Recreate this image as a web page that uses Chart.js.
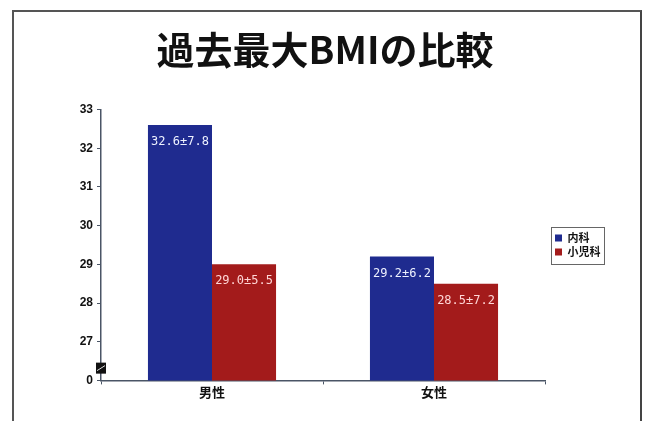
<!DOCTYPE html>
<html>
<head>
<meta charset="utf-8">
<script src="https://cdn.jsdelivr.net/npm/chart.js@4.4.1/dist/chart.umd.min.js"></script>
<style>
  html, body { margin: 0; padding: 0; background: #fff; }
  #wrap { position: relative; width: 646px; height: 421px; }
  #frame { position: absolute; left: 12px; top: 10px; width: 626px; height: 430px;
           border-left: 2px solid #555; border-top: 2px solid #555; border-right: 2px solid #444;
           pointer-events: none; }
  canvas { position: absolute; left: 0; top: 0; }
</style>
</head>
<body>
<div id="wrap">
  <canvas id="c" width="646" height="421"></canvas>
  <div id="frame"></div>
</div>
<script>
const TITLE = '過去最大BMIの比較';
const categories = ['男性', '女性'];
const seriesNames = ['内科', '小児科'];
const naikaMeans = [32.6, 29.2];
const naikaSDs = [7.8, 6.2];
const shonikaMeans = [29.0, 28.5];
const shonikaSDs = [5.5, 7.2];
const yTickValues = [26, 27, 28, 29, 30, 31, 32, 33];
const yTickLabels = ['0', '27', '28', '29', '30', '31', '32', '33'];
const Y_MIN = 26, Y_MAX = 33, BREAK_AT = 26.33;

const BLUE = '#1f2b8f';
const RED = '#a31b1b';
const Y_AXIS_WIDTH = 85;
const LEGEND_WIDTH = 89;
const LEGEND_SHIFT = 7;

const helperPlugin = {
  id: 'helper',
  beforeUpdate(chart) {
    const lg = chart.legend;
    if (lg && !lg._patched) {
      const orig = lg.fit;
      lg.fit = function () { orig.call(this); this.width = LEGEND_WIDTH; };
      lg._patched = true;
    }
  },
  afterLayout(chart) {
    const lg = chart.legend;
    if (lg) { lg.left += LEGEND_SHIFT; }
  },
  afterDatasetsDraw(chart) {
    const ctx = chart.ctx;
    ctx.save();
    ctx.font = '12px "DejaVu Sans Mono", monospace';
    ctx.textAlign = 'center';
    ctx.textBaseline = 'middle';
    chart.data.datasets.forEach((ds, di) => {
      const meta = chart.getDatasetMeta(di);
      meta.data.forEach((bar, i) => {
        const txt = ds.data[i].toFixed(1) + '±' + ds.sds[i].toFixed(1);
        ctx.fillStyle = ds.labelColor;
        ctx.fillText(txt, bar.x, bar.y + 17);
      });
    });
    // axis break marker
    const ys = chart.scales.y;
    const y0 = ys.getPixelForValue(BREAK_AT);
    const x0 = ys.right;
    ctx.fillStyle = '#111';
    ctx.fillRect(x0 - 5, y0 - 5, 10, 11);
    ctx.strokeStyle = '#ddd';
    ctx.lineWidth = 1;
    ctx.beginPath();
    ctx.moveTo(x0 - 4, y0 + 3);
    ctx.lineTo(x0 + 4, y0 - 2);
    ctx.stroke();
    ctx.restore();
  },
  afterDraw(chart) {
    const ctx = chart.ctx;
    const lg = chart.legend;
    if (lg && lg.legendHitBoxes && lg.legendHitBoxes.length) {
      let l = Infinity, t = Infinity, r = -Infinity, b = -Infinity;
      lg.legendHitBoxes.forEach(h => {
        l = Math.min(l, h.left); t = Math.min(t, h.top);
        r = Math.max(r, h.left + h.width); b = Math.max(b, h.top + h.height);
      });
      ctx.save();
      ctx.strokeStyle = '#666';
      ctx.lineWidth = 1;
      ctx.strokeRect(Math.round(l - 4) + 0.5, Math.round(t - 6) + 0.5, Math.round(r - l + 8), Math.round(b - t + 12));
      ctx.restore();
    }
  }
};

new Chart(document.getElementById('c'), {
  type: 'bar',
  data: {
    labels: categories,
    datasets: [
      { label: seriesNames[0], data: naikaMeans, sds: naikaSDs, backgroundColor: BLUE, labelColor: '#eef2ff',
        barPercentage: 1.0, categoryPercentage: 0.577 },
      { label: seriesNames[1], data: shonikaMeans, sds: shonikaSDs, backgroundColor: RED, labelColor: '#ffd6d6',
        barPercentage: 1.0, categoryPercentage: 0.577 }
    ]
  },
  options: {
    responsive: false,
    animation: false,
    layout: { padding: { left: 16, right: 12, top: 20, bottom: 21 } },
    plugins: {
      title: {
        display: true, text: TITLE, color: '#111',
        font: { family: '"Noto Sans CJK JP", sans-serif', size: 38, weight: 'bold' },
        padding: { top: 7, bottom: 37 }
      },
      legend: {
        display: true, position: 'right', fullSize: false,
        labels: {
          boxWidth: 7, boxHeight: 7, padding: 3, color: '#111',
          font: { family: '"Noto Sans CJK JP", sans-serif', size: 11, weight: 'bold' }
        }
      },
      tooltip: { enabled: false }
    },
    scales: {
      x: {
        grid: { display: true, drawOnChartArea: false, tickLength: 4, color: '#4a5566', offset: true },
        border: { display: true, color: '#4a5566', width: 1.5 },
        ticks: { color: '#111', padding: 0,
          font: { family: '"Noto Sans CJK JP", sans-serif', size: 13, weight: 'bold' } }
      },
      y: {
        min: Y_MIN, max: Y_MAX,
        afterBuildTicks(scale) { scale.ticks = yTickValues.map(v => ({ value: v })); },
        afterFit(scale) { scale.width = Y_AXIS_WIDTH; },
        grid: { display: true, drawOnChartArea: false, tickLength: 4, color: '#4a5566' },
        border: { display: true, color: '#4a5566', width: 1.5 },
        ticks: {
          color: '#111', padding: 4,
          font: { family: '"Liberation Sans", Arial, sans-serif', size: 12, weight: 'bold' },
          callback(v) { const i = yTickValues.indexOf(v); return i >= 0 ? yTickLabels[i] : ''; }
        }
      }
    }
  },
  plugins: [helperPlugin]
});
</script>
</body>
</html>
